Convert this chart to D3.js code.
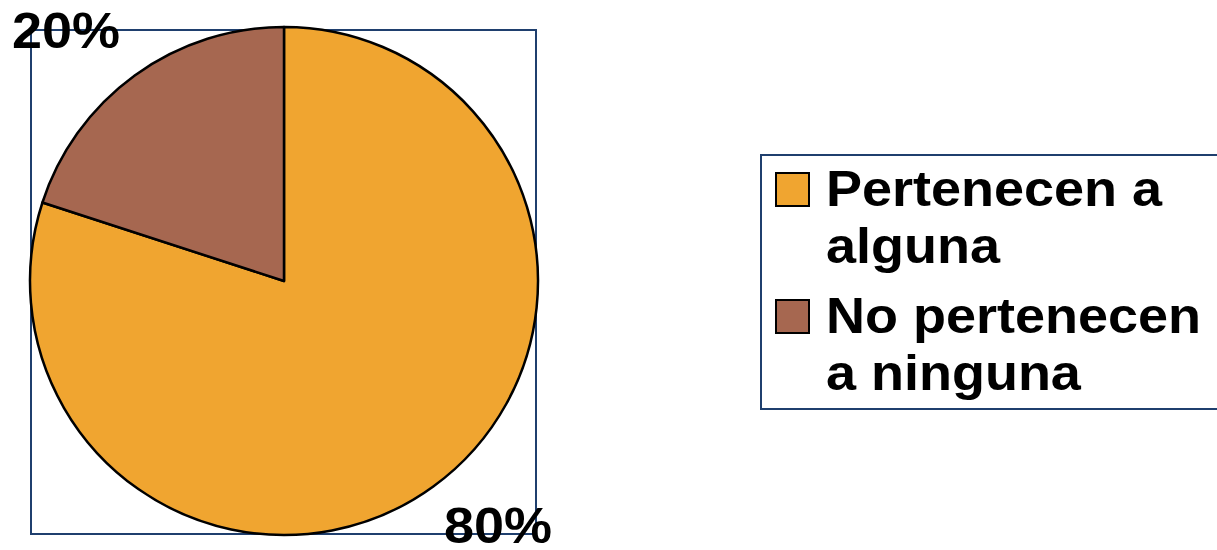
<!DOCTYPE html>
<html>
<head>
<meta charset="utf-8">
<script src="https://cdn.jsdelivr.net/npm/d3@7"></script>
<style>
  body { margin: 0; background: #fff; }
  text { font-family: "Liberation Sans", Arial, sans-serif; font-weight: bold; fill: #000; }
</style>
</head>
<body>
<svg id="pie_chart"></svg>
<script>
// chart data
const categories = ['Pertenecen a alguna', 'No pertenecen a ninguna']
const legendLines = [['Pertenecen a', 'alguna'], ['No pertenecen', 'a ninguna']]
const values = [80, 20]
const pctLabels = ['80%', '20%']
const sliceColors = ['#F0A530', '#A66750']

let w = 1217, h = 550
let cx = 284, cy = 281, r = 254
let box = {left: 31, top: 30, right: 536, bottom: 534}
let leg = {x: 761, y: 155, w: 500, h: 254}
let fontSize = 50, stretch = 1.08

let svg = d3.select('#pie_chart').attr('width', w).attr('height', h)

let colorScale = d3.scaleOrdinal(categories, sliceColors)

// plot area box
svg.append('rect')
    .attr('x', box.left).attr('y', box.top)
    .attr('width', box.right - box.left).attr('height', box.bottom - box.top)
    .attr('fill', 'none').attr('stroke', '#1F3F6E').attr('stroke-width', 2)

let pie = d3.pie().sort(null).value(d => d.value)
let arc = d3.arc().innerRadius(0).outerRadius(r)
let data = categories.map((c, i) => ({cat: c, value: values[i], label: pctLabels[i]}))

let g = svg.append('g').attr('transform', `translate(${cx},${cy})`)
g.selectAll('path')
    .data(pie(data))
    .enter().append('path')
    .attr('d', arc)
    .attr('fill', d => colorScale(d.data.cat))
    .attr('stroke', '#000')
    .attr('stroke-width', 2.5)
    .attr('stroke-linejoin', 'round')

// percent labels (best fit style, near plot corners)
function stretchedText(parent, x, y, txt, anchor) {
    parent.append('g')
        .attr('transform', `translate(${x},${y}) scale(${stretch},1)`)
        .append('text')
        .attr('text-anchor', anchor)
        .style('font-size', fontSize + 'px')
        .text(txt)
}
stretchedText(svg, box.left - 19, box.top + 18, data[1].label, 'start')
stretchedText(svg, box.right + 16, box.bottom + 9, data[0].label, 'end')

// legend
svg.append('rect')
    .attr('x', leg.x).attr('y', leg.y)
    .attr('width', leg.w).attr('height', leg.h)
    .attr('fill', '#fff').attr('stroke', '#1F3F6E').attr('stroke-width', 2)

let legItems = svg.selectAll('.legItem')
    .data(categories)
    .enter().append('g')
    .attr('class', 'legItem')
    .attr('transform', (d, i) => `translate(${leg.x}, ${leg.y + i * 127})`)

legItems.append('rect')
    .attr('x', 15).attr('y', 18)
    .attr('width', 33).attr('height', 33)
    .attr('fill', d => colorScale(d))
    .attr('stroke', '#000').attr('stroke-width', 2)

legItems.each(function(d, i) {
    let item = d3.select(this)
    legendLines[i].forEach((line, j) => {
        stretchedText(item, 65, 51 + j * 57, line, 'start')
    })
})
</script>
</body>
</html>
